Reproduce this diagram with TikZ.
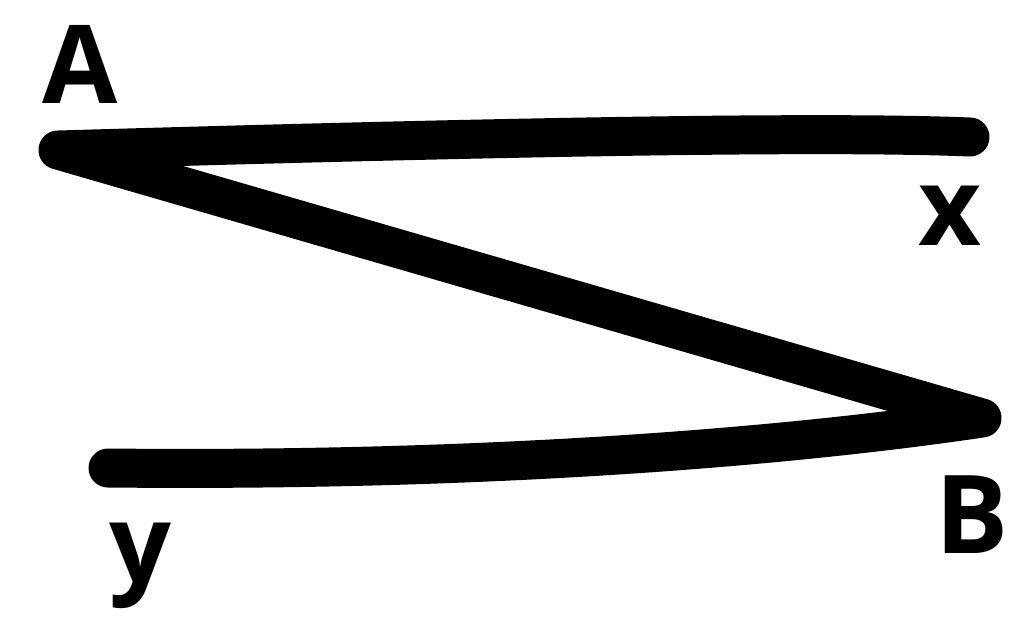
\documentclass[tikz,border=0pt]{standalone}
\usepackage{fontspec}
\setmainfont{Open Sans}
\begin{document}
\begin{tikzpicture}[x=0.02cm, y=-0.02cm]
		\tikzset{
			stroke/.style = {line width=0.78cm, line cap=round, line join=round},
			letter/.style = {font=\fontsize{62}{62}\selectfont\bfseries, inner sep=0pt}
		}
		\useasboundingbox (0,0) rectangle (1024,633);

		\coordinate (xend) at (970,137);
		\coordinate (Acorner) at (58,150);
		\coordinate (Bcorner) at (982,418);
		\coordinate (yend) at (108,468);

		\draw[stroke] (xend) .. controls (800,130) and (400,140) .. (Acorner)
			-- (Bcorner) .. controls (800,445) and (500,472) .. (yend);

		\node[letter] (A) at (80,64) {A};
		\node[letter] (x) at (950,216) {x};
		\node[letter] (B) at (972,515) {B};
		\node[letter] (y) at (140,566) {y};
	\end{tikzpicture}
\end{document}
